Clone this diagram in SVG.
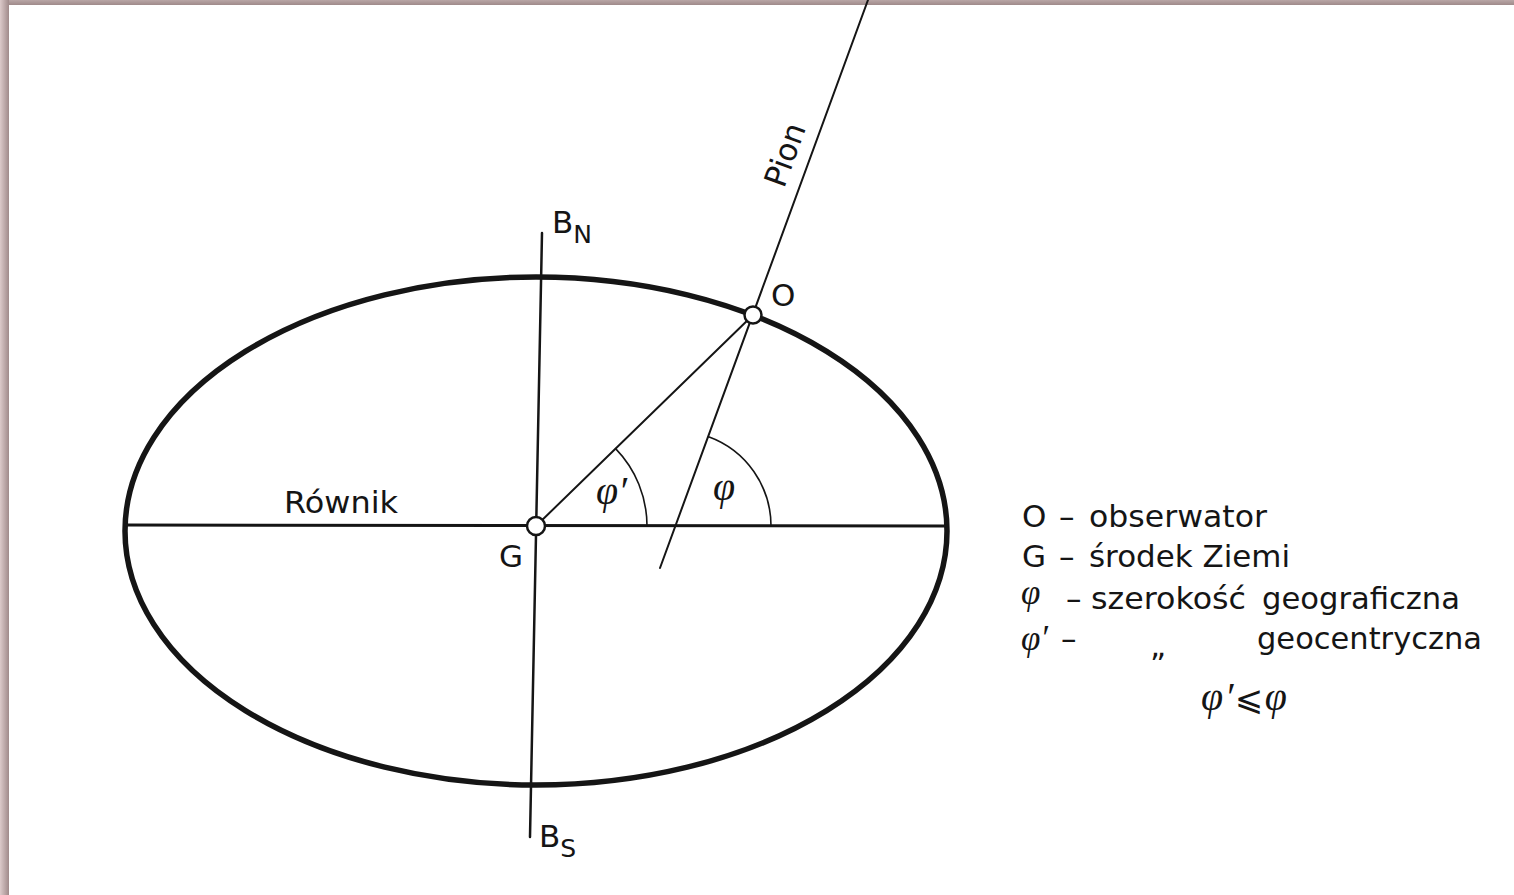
<svg xmlns="http://www.w3.org/2000/svg" width="1514" height="895" viewBox="0 0 1514 895">
<style>
.t{font-family:"DejaVu Sans","Liberation Sans",sans-serif;font-size:31px;fill:#151515}
.m{font-family:"Liberation Serif","DejaVu Serif",serif;font-style:italic;font-size:40px;fill:#151515}
.ml{font-family:"Liberation Serif","DejaVu Serif",serif;font-style:italic;font-size:35px;fill:#151515}
.ln{stroke:#151515;fill:none;stroke-linecap:round}
</style>
<defs>
<linearGradient id="lg" x1="0" y1="0" x2="1" y2="0">
<stop offset="0" stop-color="#dccaca"/>
<stop offset="1" stop-color="#a08a8a"/>
</linearGradient>
<linearGradient id="tg" x1="0" y1="0" x2="0" y2="1">
<stop offset="0" stop-color="#b9a6a6"/>
<stop offset="1" stop-color="#9f8a8a"/>
</linearGradient>
</defs>
<rect width="1514" height="895" fill="#fff"/>
<g id="frame">
<rect x="0" y="0" width="1514" height="5" fill="url(#tg)"/>
<rect x="0" y="0" width="9" height="895" fill="url(#lg)"/>
</g>
<g id="earth">
<ellipse class="ln" cx="536" cy="531" rx="411" ry="254" stroke-width="5.5"/>
</g>
<g id="connectors">
<line class="ln" x1="125" y1="525" x2="947" y2="526" stroke-width="3"/>
<line class="ln" x1="542" y1="233" x2="530" y2="837" stroke-width="2.5"/>
<line class="ln" x1="868" y1="0" x2="660" y2="568" stroke-width="2"/>
<line class="ln" x1="536" y1="526" x2="753" y2="315" stroke-width="2"/>
<path class="ln" d="M647,526 A111,111 0 0 0 615.6,448.6" stroke-width="1.6"/>
<path class="ln" d="M771,526 A95,95 0 0 0 708.6,436.8" stroke-width="1.6"/>
</g>
<g id="node-G">
<circle cx="536" cy="526" r="9" fill="#fff" stroke="#151515" stroke-width="2.5"/>
<text class="t" x="499" y="567">G</text>
</g>
<g id="node-O">
<circle cx="753" cy="315" r="8.5" fill="#fff" stroke="#151515" stroke-width="2.5"/>
<text class="t" x="771" y="306">O</text>
</g>
<g id="labels">
<text class="t" x="552" y="233">B<tspan font-size="25" dy="10">N</tspan></text>
<text class="t" x="539" y="847">B<tspan font-size="25" dy="10">S</tspan></text>
<text class="t" x="284" y="513" textLength="114" lengthAdjust="spacingAndGlyphs">Równik</text>
<text class="t" transform="translate(784,189) rotate(-70)">Pion</text>
<text class="m" x="596" y="504">φ′</text>
<text class="m" x="713" y="500">φ</text>
</g>
<g id="legend">
<text class="t" x="1022" y="527">O</text>
<text class="t" x="1059" y="527">–</text>
<text class="t" x="1089" y="527" textLength="178" lengthAdjust="spacingAndGlyphs">obserwator</text>
<text class="t" x="1022" y="567">G</text>
<text class="t" x="1059" y="567">–</text>
<text class="t" x="1089" y="567" textLength="201" lengthAdjust="spacingAndGlyphs">środek Ziemi</text>
<text class="ml" x="1021" y="604">φ</text>
<text class="t" x="1066" y="609">–</text>
<text class="t" x="1091" y="609" textLength="155" lengthAdjust="spacingAndGlyphs">szerokość</text>
<text class="t" x="1262" y="609" textLength="198" lengthAdjust="spacingAndGlyphs">geograficzna</text>
<text class="ml" x="1021" y="650">φ′</text>
<text class="t" x="1061" y="649">–</text>
<text class="t" x="1150" y="656">„</text>
<text class="t" x="1257" y="649" textLength="225" lengthAdjust="spacingAndGlyphs">geocentryczna</text>
<text class="m" x="1201" y="710" textLength="86" lengthAdjust="spacing">φ′<tspan font-family="DejaVu Sans" font-style="normal" font-size="34">⩽</tspan>φ</text>
</g>
</svg>
